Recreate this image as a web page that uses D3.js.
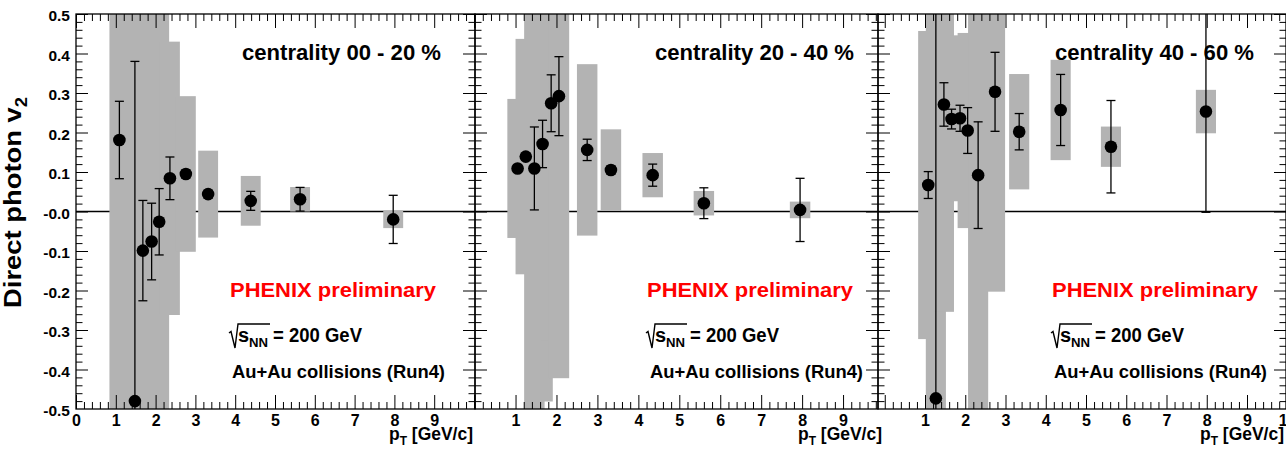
<!DOCTYPE html>
<html><head><meta charset="utf-8">
<script src="https://cdn.jsdelivr.net/npm/d3@7"></script>
<style>
html,body{margin:0;padding:0;background:#fff;}
svg{display:block;font-family:"Liberation Sans",Arial,Helvetica,sans-serif;font-weight:bold;}
</style></head><body>
<svg id="chart" width="1286" height="451"></svg>
<script>
// ---------------- data ----------------
const centralityLabels = ["centrality 00 - 20 %", "centrality 20 - 40 %", "centrality 40 - 60 %"];

// centrality 00-20 %
const pt_0020   = [1.09, 1.48, 1.68, 1.90, 2.09, 2.36, 2.76, 3.32, 4.39, 5.63, 7.97];
const v2_0020   = [0.181, -0.480, -0.099, -0.076, -0.026, 0.084, 0.095, 0.044, 0.027, 0.031, -0.020];
const stat_0020 = [0.098, 0.860, 0.127, 0.097, 0.084, 0.054, 0.010, 0.010, 0.024, 0.030, 0.061];
const sys_0020  = [0.75, 1.00, 0.90, 0.80, 0.70, 0.346, 0.197, 0.110, 0.063, 0.031, 0.022];

// centrality 20-40 %
const pt_2040   = [1.05, 1.25, 1.46, 1.66, 1.87, 2.06, 2.75, 3.33, 4.35, 5.60, 7.95];
const v2_2040   = [0.109, 0.139, 0.109, 0.171, 0.274, 0.292, 0.156, 0.105, 0.092, 0.021, 0.004];
const stat_2040 = [0.008, 0.008, 0.105, 0.060, 0.072, 0.100, 0.027, 0.010, 0.028, 0.039, 0.080];
const sys_2040  = [0.176, 0.298, 0.75, 0.652, 0.60, 0.714, 0.217, 0.103, 0.056, 0.031, 0.021];

// centrality 40-60 %
const pt_4060   = [1.08, 1.27, 1.47, 1.66, 1.87, 2.06, 2.32, 2.74, 3.34, 4.37, 5.62, 7.98];
const v2_4060   = [0.067, -0.473, 0.271, 0.234, 0.236, 0.205, 0.092, 0.303, 0.202, 0.257, 0.164, 0.253];
const stat_4060 = [0.034, 1.05, 0.055, 0.025, 0.033, 0.058, 0.135, 0.100, 0.046, 0.090, 0.117, 0.255];
const sys_4060  = [0.39, 1.00, 0.525, 0.20, 0.21, 0.247, 0.65, 0.506, 0.146, 0.127, 0.051, 0.055];

const xTickLabels_0020 = ["0","1","2","3","4","5","6","7","8","9"];
const xTickLabels_2040 = ["1","2","3","4","5","6","7","8","9"];
const xTickLabels_4060 = ["1","2","3","4","5","6","7","8","9","10"];
const yTickValues = [0.5, 0.4, 0.3, 0.2, 0.1, 0.0, -0.1, -0.2, -0.3, -0.4, -0.5];
const yTickLabels = ["0.5","0.4","0.3","0.2","0.1","-0.0","-0.1","-0.2","-0.3","-0.4","-0.5"];

const boxHalfWidth = 0.25;

// ---------------- layout ----------------
const panels = [
  {pt: pt_0020, v2: v2_0020, stat: stat_0020, sys: sys_0020, xt: xTickLabels_0020, label: centralityLabels[0],
   frame: [76, 475], range: [76, 474], titleEnd: 473, tx: {c: 242, ph: 230, sq: 228, au: 232}},
  {pt: pt_2040, v2: v2_2040, stat: stat_2040, sys: sys_2040, xt: xTickLabels_2040, label: centralityLabels[1],
   frame: [475, 878], range: [474.6, 884], titleEnd: 882, tx: {c: 655, ph: 647, sq: 645, au: 650}},
  {pt: pt_4060, v2: v2_4060, stat: stat_4060, sys: sys_4060, xt: xTickLabels_4060, label: centralityLabels[2],
   frame: [878, 1286], range: [884.75, 1287.25], titleEnd: 1284, tx: {c: 1055, ph: 1052, sq: 1050, au: 1054}}
];

const TOP = 14, BOTTOM = 409;
const BOXCOL = "#b3b3b3";
const svg = d3.select("#chart");
const defs = svg.append("defs");
const y = d3.scaleLinear().domain([-0.5, 0.5]).range([BOTTOM, TOP]);

const xMinor = d3.range(0, 51).map(k => k / 5).filter(v => Math.abs(v - Math.round(v)) > 1e-6);
const xMajor = d3.range(0, 11);
const yMajor = d3.range(-5, 6).map(k => k / 10);
const yMinor = d3.range(-25, 26).filter(k => k % 5 !== 0).map(k => k / 50);

function cleanAxis(g) { g.select(".domain").remove(); g.selectAll(".tick line").attr("stroke", "#000").attr("stroke-width", 1); }

panels.forEach((P, i) => {
  const [fx0, fx1] = P.frame;
  const x = d3.scaleLinear().domain([0, 10]).range(P.range);
  const clipId = "clip" + i;
  defs.append("clipPath").attr("id", clipId).append("rect")
    .attr("x", fx0).attr("y", TOP).attr("width", fx1 - fx0).attr("height", BOTTOM - TOP);

  const g = svg.append("g").attr("clip-path", `url(#${clipId})`);
  const pts = P.pt.map((p, k) => ({pt: p, v: P.v2[k], s: P.stat[k], sy: P.sys[k]}));

  // zero line
  g.append("line").attr("x1", fx0).attr("x2", fx1).attr("y1", y(0)).attr("y2", y(0))
    .attr("stroke", "#000").attr("stroke-width", 1.3);

  // systematic boxes
  g.selectAll("rect.sys").data(pts).join("rect").attr("class", "sys")
    .attr("x", d => x(d.pt - boxHalfWidth))
    .attr("width", d => x(d.pt + boxHalfWidth) - x(d.pt - boxHalfWidth))
    .attr("y", d => y(d.v + d.sy))
    .attr("height", d => y(d.v - d.sy) - y(d.v + d.sy))
    .attr("fill", BOXCOL);

  // stat error bars
  const eb = g.selectAll("g.eb").data(pts).join("g").attr("class", "eb");
  eb.append("line").attr("x1", d => x(d.pt)).attr("x2", d => x(d.pt))
    .attr("y1", d => y(d.v - d.s)).attr("y2", d => y(d.v + d.s))
    .attr("stroke", "#000").attr("stroke-width", 1.3);
  eb.append("line").attr("x1", d => x(d.pt) - 4.5).attr("x2", d => x(d.pt) + 4.5)
    .attr("y1", d => y(d.v + d.s)).attr("y2", d => y(d.v + d.s))
    .attr("stroke", "#000").attr("stroke-width", 1.3);
  eb.append("line").attr("x1", d => x(d.pt) - 4.5).attr("x2", d => x(d.pt) + 4.5)
    .attr("y1", d => y(d.v - d.s)).attr("y2", d => y(d.v - d.s))
    .attr("stroke", "#000").attr("stroke-width", 1.3);

  // markers
  g.selectAll("circle").data(pts).join("circle")
    .attr("cx", d => x(d.pt)).attr("cy", d => y(d.v)).attr("r", 6.3).attr("fill", "#000");

  // ticks (clipped to frame)
  const tg = svg.append("g").attr("clip-path", `url(#${clipId})`);
  tg.append("g").attr("transform", `translate(0,${BOTTOM})`)
    .call(d3.axisTop(x).tickValues(xMajor).tickSize(14).tickFormat("")).call(cleanAxis);
  tg.append("g").attr("transform", `translate(0,${BOTTOM})`)
    .call(d3.axisTop(x).tickValues(xMinor).tickSize(7).tickFormat("")).call(cleanAxis);
  tg.append("g").attr("transform", `translate(0,${TOP})`)
    .call(d3.axisBottom(x).tickValues(xMajor).tickSize(14).tickFormat("")).call(cleanAxis);
  tg.append("g").attr("transform", `translate(0,${TOP})`)
    .call(d3.axisBottom(x).tickValues(xMinor).tickSize(7).tickFormat("")).call(cleanAxis);
  tg.append("g").attr("transform", `translate(${fx0},0)`)
    .call(d3.axisRight(y).tickValues(yMajor).tickSize(12).tickFormat("")).call(cleanAxis);
  tg.append("g").attr("transform", `translate(${fx0},0)`)
    .call(d3.axisRight(y).tickValues(yMinor).tickSize(6.5).tickFormat("")).call(cleanAxis);
  tg.append("g").attr("transform", `translate(${fx1},0)`)
    .call(d3.axisLeft(y).tickValues(yMajor).tickSize(12).tickFormat("")).call(cleanAxis);
  tg.append("g").attr("transform", `translate(${fx1},0)`)
    .call(d3.axisLeft(y).tickValues(yMinor).tickSize(6.5).tickFormat("")).call(cleanAxis);

  // frame
  svg.append("rect").attr("x", fx0).attr("y", TOP).attr("width", fx1 - fx0).attr("height", BOTTOM - TOP)
    .attr("fill", "none").attr("stroke", "#000").attr("stroke-width", 1.3);

  // x tick labels
  const xl = svg.append("g").attr("transform", `translate(0,${BOTTOM})`)
    .call(d3.axisBottom(x).tickValues(P.xt.map(Number)).tickFormat((d, k) => P.xt[k]).tickSize(0).tickPadding(6));
  xl.select(".domain").remove();
  xl.selectAll("text").attr("font-size", 16).attr("font-weight", "bold")
    .attr("font-family", "'Liberation Sans',Arial,sans-serif").attr("fill", "#000");

  // x axis title
  const xt = svg.append("text").attr("x", P.titleEnd).attr("y", 440).attr("text-anchor", "end")
    .attr("font-size", 19).attr("textLength", 84).attr("lengthAdjust", "spacingAndGlyphs");
  xt.append("tspan").text("p");
  xt.append("tspan").attr("font-size", 13).attr("dy", 5).text("T");
  xt.append("tspan").attr("dy", -5).text(" [GeV/c]");

  // panel texts
  svg.append("text").attr("x", P.tx.c).attr("y", 60).attr("font-size", 22)
    .attr("textLength", 199).attr("lengthAdjust", "spacingAndGlyphs").text(P.label);
  svg.append("text").attr("x", P.tx.ph).attr("y", 297).attr("font-size", 21).attr("fill", "#ff0000")
    .attr("textLength", 206).attr("lengthAdjust", "spacingAndGlyphs").text("PHENIX preliminary");

  const sx = P.tx.sq;
  svg.append("path")
    .attr("d", `M${sx + 1},${333} L${sx + 3},${331.5} L${sx + 7},${348} L${sx + 10},${324} L${sx + 42},${324}`)
    .attr("fill", "none").attr("stroke", "#000").attr("stroke-width", 1.4);
  svg.append("text").attr("x", sx + 10).attr("y", 341.7).attr("font-size", 20).text("s");
  svg.append("text").attr("x", sx + 21).attr("y", 346.7).attr("font-size", 13)
    .attr("textLength", 19).attr("lengthAdjust", "spacingAndGlyphs").text("NN");
  svg.append("text").attr("x", sx + 45).attr("y", 341.7).attr("font-size", 20)
    .attr("textLength", 89).attr("lengthAdjust", "spacingAndGlyphs").text("= 200 GeV");

  svg.append("text").attr("x", P.tx.au).attr("y", 378).attr("font-size", 18)
    .attr("textLength", 213).attr("lengthAdjust", "spacingAndGlyphs").text("Au+Au collisions (Run4)");
});

// y tick labels
const yl = svg.append("g").attr("transform", "translate(76,2)")
  .call(d3.axisLeft(y).tickValues(yTickValues).tickFormat((d, k) => yTickLabels[k]).tickSize(0).tickPadding(6));
yl.select(".domain").remove();
yl.selectAll("text").attr("font-size", 15.5).attr("font-weight", "bold")
  .attr("font-family", "'Liberation Sans',Arial,sans-serif").attr("fill", "#000");

// y axis title
const yt = svg.append("text").attr("transform", "translate(20.5,202.5) rotate(-90)")
  .attr("text-anchor", "middle").attr("font-size", 24)
  .attr("textLength", 211).attr("lengthAdjust", "spacingAndGlyphs");
yt.append("tspan").text("Direct photon v");
yt.append("tspan").attr("font-size", 16).attr("dy", 6).text("2");
</script>
</body></html>
